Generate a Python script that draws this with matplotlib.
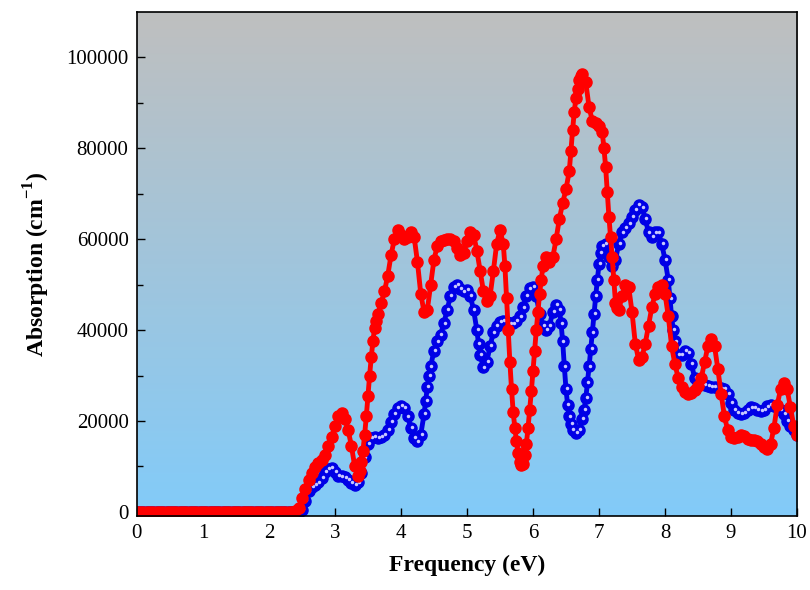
import numpy as np
import matplotlib
matplotlib.use("Agg")
import matplotlib.pyplot as plt
from matplotlib.colors import LinearSegmentedColormap
import matplotlib.transforms as mtransforms

# ---------------- data (absorption in units of 1000 cm^-1) ----------------
freq = np.round(np.arange(201) * 0.05, 2)   # 0 ... 10 eV

red_vals = [0.0] * 48 + [
    0.3, 0.8, 3.0, 5.0, 7.0, 8.5, 9.8, 10.8, 11.5, 12.5,
    14.5, 16.5, 19.0, 21.0, 21.8, 20.5, 18.0, 14.5, 10.0, 8.0,
    11.0, 17.0, 25.5, 34.0, 40.5, 43.5, 46.0, 48.5, 52.0, 56.5,
    60.0, 62.0, 61.0, 60.0, 60.5, 61.5, 60.5, 55.0, 48.0, 44.0,
    44.5, 50.0, 55.5, 58.5, 59.5, 59.8, 60.0, 60.0, 59.5, 58.0,
    56.5, 57.0, 59.5, 61.5, 61.0, 57.5, 53.0, 48.5, 46.5, 47.5,
    53.0, 59.0, 62.0, 59.0, 47.0, 33.0, 22.0, 15.5, 11.0, 10.5,
    15.0, 22.5, 31.0, 40.0, 48.0, 54.0, 56.0, 55.0, 56.0, 60.0,
    64.5, 68.0, 71.0, 75.0, 84.0, 91.0, 95.0, 96.3, 94.5, 89.0,
    86.0, 85.5, 85.0, 83.5, 76.0, 65.0, 56.0, 46.0, 44.5, 47.5,
    50.0, 49.5, 44.0, 37.0, 33.5, 34.0, 37.0, 41.0, 45.0, 48.0,
    49.5, 50.0, 48.0, 43.0, 36.5, 32.5, 29.5, 27.5, 26.3, 26.0,
    26.2, 26.8, 27.8, 29.5, 33.0, 36.5, 38.0, 36.5, 31.5, 26.0,
    21.0, 18.0, 16.5, 16.2, 16.5, 17.0, 16.8, 16.0, 15.8, 15.8,
    15.5, 15.0, 14.2, 13.8, 15.0, 18.5, 23.5, 27.0, 28.3, 27.0,
    23.0, 19.0, 17.0]

# extra readings in the steep parts of the red curve
red_x_extra = [3.375, 3.425, 3.475, 3.525, 3.575, 3.625,
               5.575, 5.625, 5.675, 5.725, 5.775, 5.825, 5.875, 5.925,
               5.975, 6.025, 6.075, 6.125,
               6.575, 6.625, 6.675, 6.725,
               7.075, 7.125, 7.175, 7.225, 7.275]
red_y_extra = [9.0, 13.5, 21.0, 30.0, 37.5, 42.0,
               54.0, 40.0, 27.0, 18.5, 13.0, 10.3, 12.5, 18.5,
               26.5, 35.5, 44.0, 51.0,
               79.5, 88.0, 93.0, 96.0,
               80.0, 70.5, 60.5, 51.0, 44.8]

blue_vals = [0.0] * 50 + [
    0.5, 2.5, 4.5, 5.5, 6.0, 6.5, 7.5, 8.8, 9.5, 9.6,
    8.8, 8.0, 7.8, 7.6, 7.0, 6.3, 6.0, 6.5, 8.5, 12.0,
    15.0, 16.3, 16.5, 16.3, 16.5, 17.0, 18.0, 19.8, 21.5, 22.8,
    23.3, 22.8, 21.0, 18.5, 16.3, 15.5, 17.0, 21.5, 27.5, 32.0,
    35.5, 37.5, 39.0, 41.5, 44.5, 47.5, 49.5, 50.0, 49.0, 48.5,
    48.8, 47.5, 44.5, 40.0, 34.5, 31.8, 33.0, 36.5, 39.5, 41.0,
    41.8, 42.0, 41.8, 41.5, 41.5, 42.0, 43.0, 45.0, 47.5, 49.2,
    49.5, 47.5, 43.5, 41.0, 40.0, 41.0, 44.0, 45.5, 44.5, 37.5,
    27.0, 21.0, 18.0, 17.3, 18.0, 20.5, 25.0, 32.0, 39.5, 47.5,
    54.5, 58.5, 59.0, 56.0, 54.0, 55.5, 59.0, 61.5, 62.5, 63.5,
    65.0, 66.5, 67.5, 67.0, 64.5, 61.5, 60.5, 61.5, 61.5, 59.0,
    55.5, 51.0, 43.0, 37.5, 34.5, 34.5, 35.5, 35.0, 32.5, 29.5,
    28.5, 28.3, 28.0, 27.8, 27.5, 27.5, 27.3, 27.2, 27.0, 26.0,
    24.0, 22.5, 21.8, 21.5, 21.8, 22.5, 23.0, 22.8, 22.5, 22.3,
    22.5, 23.2, 23.5, 23.2, 23.0, 22.5, 21.5, 20.0, 19.0, 18.0,
    17.0]

# extra readings in the steep parts of the blue curve
blue_x_extra = [4.375, 4.425, 5.175,
                6.425, 6.475, 6.525, 6.575,
                6.775, 6.825, 6.875, 6.925, 6.975, 7.025,
                8.075, 8.125]
blue_y_extra = [24.5, 30.0, 37.0,
                41.5, 32.0, 23.5, 19.3,
                22.5, 28.5, 35.8, 43.5, 51.0, 57.0,
                47.0, 40.0]

x_ticks = list(range(0, 11))
y_ticks = [0, 20000, 40000, 60000, 80000, 100000]


def merged(xs, ys, xe, ye):
    x = np.concatenate([np.asarray(xs, float), np.asarray(xe, float)])
    y = np.concatenate([np.asarray(ys, float), np.asarray(ye, float)])
    o = np.argsort(x, kind="stable")
    return x[o], y[o] * 1000


red_x, red = merged(freq, red_vals, red_x_extra, red_y_extra)
blue_x, blue = merged(freq, blue_vals, blue_x_extra, blue_y_extra)

# ---------------- figure ----------------
plt.rcParams['font.family'] = ['Liberation Serif', 'DejaVu Serif']
plt.rcParams['mathtext.fontset'] = 'custom'
plt.rcParams['mathtext.rm'] = 'Liberation Serif'
plt.rcParams['mathtext.bf'] = 'Liberation Serif:bold'

fig = plt.figure(figsize=(8.1, 5.9), dpi=100)
ax = fig.add_axes([0.169, 0.1254, 0.815, 0.8543])

# gradient background
cmap = LinearSegmentedColormap.from_list("bg", ["#82CBF9", "#BFBFBF"])
grad = np.linspace(0, 1, 256).reshape(-1, 1)
ax.imshow(grad, cmap=cmap, origin="lower", extent=[0, 1, 0, 1],
          transform=ax.transAxes, aspect="auto", zorder=0)

# blue series (spheres with highlight)
ax.plot(blue_x, blue, color="#0000E6", lw=3.5, marker="o", ms=8,
        mec="#0000E6", mfc="#0000E6", zorder=2)
hl = mtransforms.offset_copy(ax.transData, fig=fig, x=0.8, y=0.8, units="dots")
ax.plot(blue_x, blue, ls="none", marker="o", ms=2.5, mec="none",
        mfc="#C8C8FF", transform=hl, zorder=2.1)

# red series
ax.plot(red_x, red, color="#FF0000", lw=3.5, marker="o", ms=8,
        mec="#FF0000", mfc="#FF0000", zorder=3)

ax.set_xlim(0, 10)
ax.set_ylim(-900, 110000)
ax.set_xticks(x_ticks)
ax.set_xticklabels([str(t) for t in x_ticks])
ax.set_yticks(y_ticks)
ax.set_yticklabels([str(t) for t in y_ticks])
ax.set_yticks(np.arange(10000, 110000, 20000), minor=True)

ax.tick_params(axis="both", which="major", direction="in", length=6,
               width=1, labelsize=15, top=False, right=False, pad=6)
ax.tick_params(axis="y", which="minor", direction="in", length=4, width=1)
for sp in ax.spines.values():
    sp.set_linewidth(1.2)
    sp.set_zorder(5)

ax.set_xlabel("Frequency (eV)", fontsize=17, fontweight="bold", labelpad=8)
ax.set_ylabel(r"Absorption (cm$^{\mathbf{-1}}$)", fontsize=17,
              fontweight="bold", labelpad=10)

fig.savefig("out.png", dpi=100)
